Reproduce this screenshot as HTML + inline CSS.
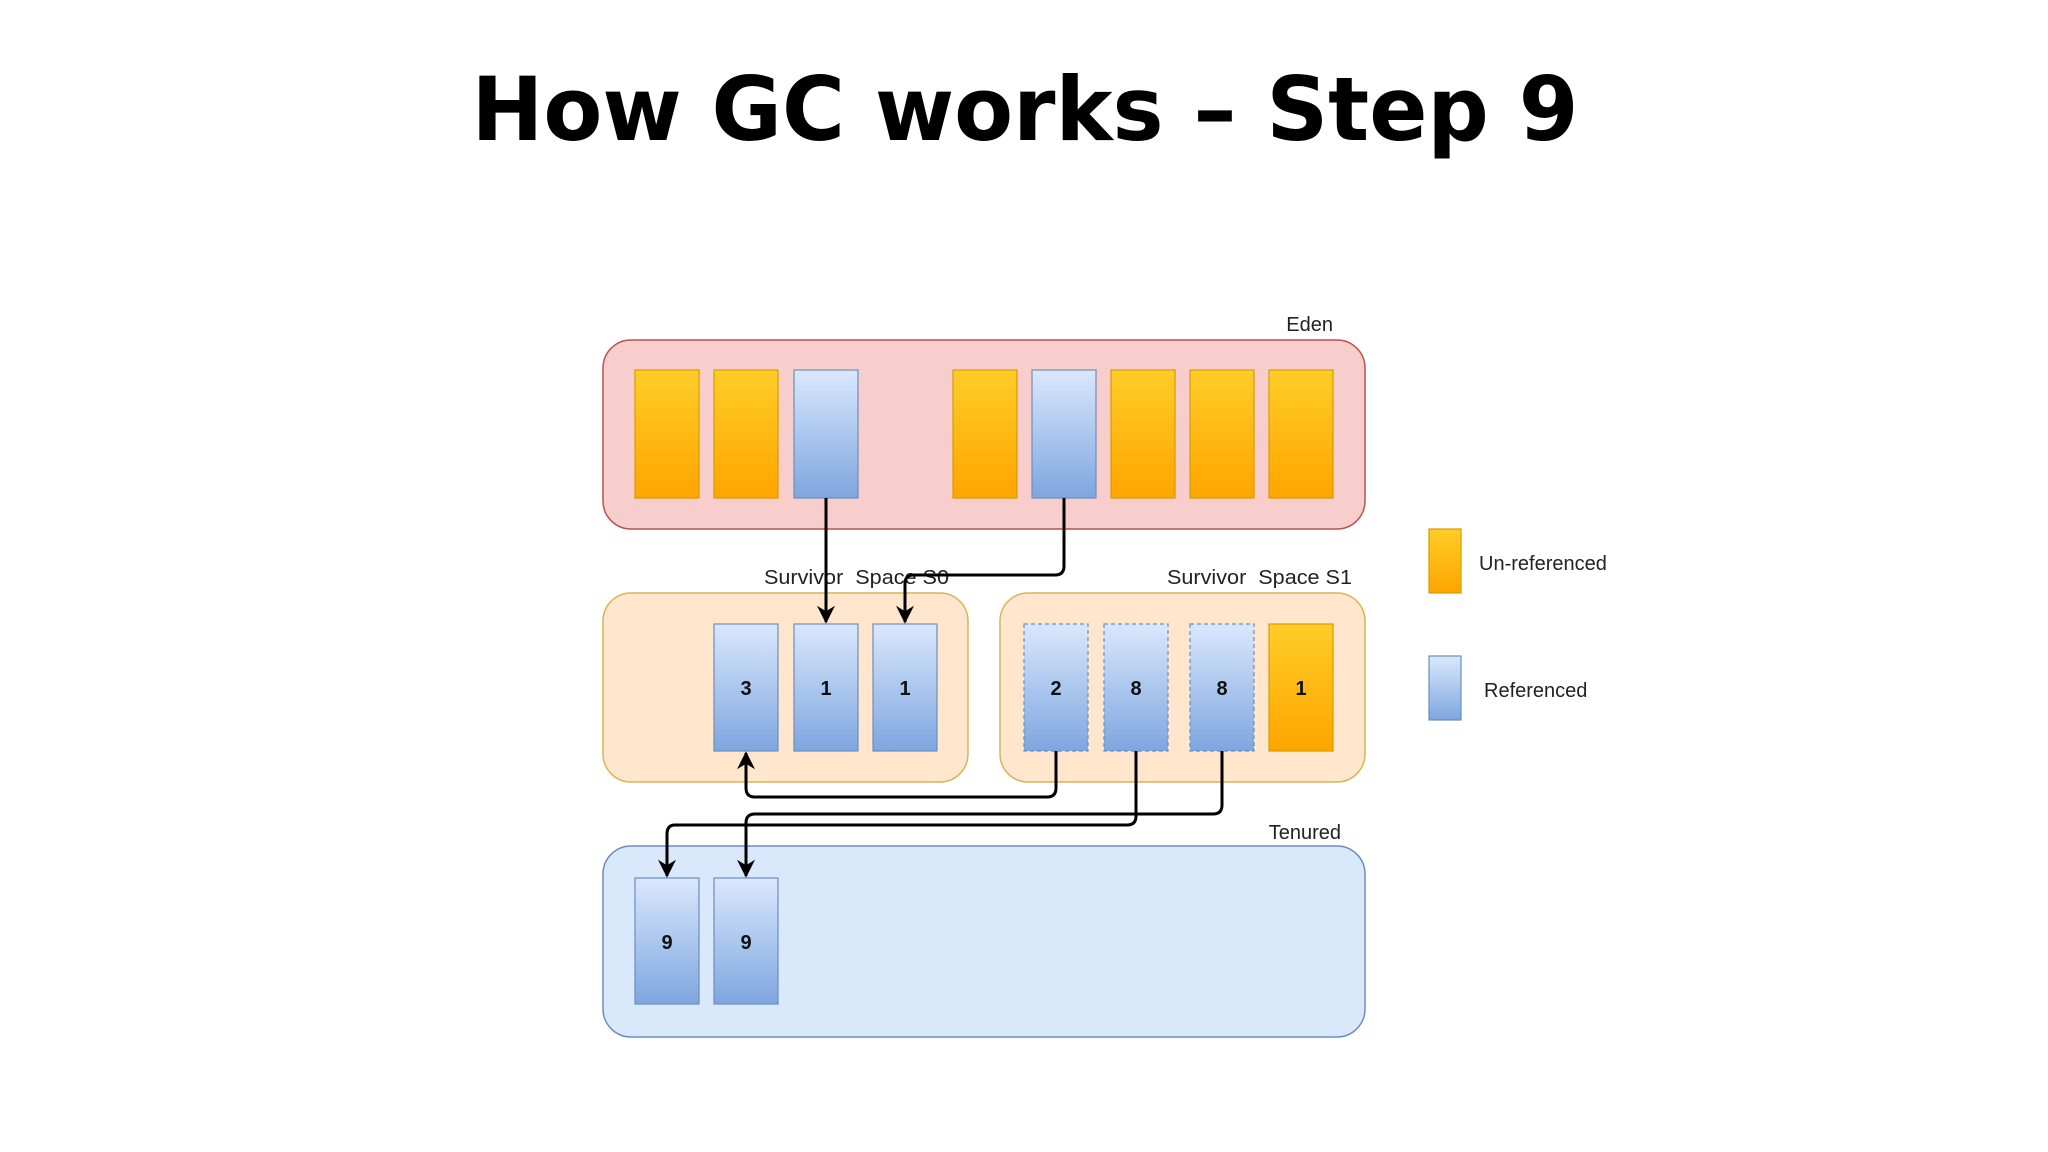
<!DOCTYPE html>
<html><head><meta charset="utf-8"><style>
html,body{margin:0;padding:0;background:#fff;}
svg{display:block;}
</style></head><body>
<svg width="2048" height="1152" viewBox="0 0 2048 1152" xmlns="http://www.w3.org/2000/svg">
<defs>
<linearGradient id="og" x1="0" y1="0" x2="0" y2="1"><stop offset="0" stop-color="#ffcd28"/><stop offset="1" stop-color="#ffa500"/></linearGradient>
<linearGradient id="bg" x1="0" y1="0" x2="0" y2="1"><stop offset="0" stop-color="#dae8fc"/><stop offset="1" stop-color="#7ea6e0"/></linearGradient>
<marker id="ar" viewBox="0 0 10 10" refX="9" refY="5" markerWidth="20" markerHeight="18" orient="auto" markerUnits="userSpaceOnUse"><path d="M0,0 L10,5 L0,10 L3,5 z" fill="#000"/></marker>
</defs>
<text x="1025" y="140" text-anchor="middle" font-family="DejaVu Sans, sans-serif" font-weight="bold" font-size="88" textLength="1107" lengthAdjust="spacingAndGlyphs">How GC works – Step 9</text>

<g font-family="Liberation Sans, sans-serif" font-size="20" fill="#222">
<text x="1333" y="331" text-anchor="end">Eden</text>
<text x="949" y="584" text-anchor="end" textLength="185" lengthAdjust="spacingAndGlyphs">Survivor&#160;&#160;Space S0</text>
<text x="1352" y="584" text-anchor="end" textLength="185" lengthAdjust="spacingAndGlyphs">Survivor&#160;&#160;Space S1</text>
<text x="1341" y="839" text-anchor="end">Tenured</text>
<text x="1479" y="570">Un-referenced</text>
<text x="1484" y="697">Referenced</text>
</g>

<rect x="603" y="340" width="762" height="189" rx="28" fill="#f8cecc" stroke="#b85450" stroke-width="1.5"/>
<rect x="603" y="593" width="365" height="189" rx="28" fill="#ffe6cc" stroke="#d6b656" stroke-width="1.5"/>
<rect x="1000" y="593" width="365" height="189" rx="28" fill="#ffe6cc" stroke="#d6b656" stroke-width="1.5"/>
<rect x="603" y="846" width="762" height="191" rx="28" fill="#dae8fc" stroke="#6c8ebf" stroke-width="1.5"/>

<g stroke-width="1.2">
<rect x="635" y="370" width="64" height="128" fill="url(#og)" stroke="#d79b00"/>
<rect x="714" y="370" width="64" height="128" fill="url(#og)" stroke="#d79b00"/>
<rect x="794" y="370" width="64" height="128" fill="url(#bg)" stroke="#6c8ebf"/>
<rect x="953" y="370" width="64" height="128" fill="url(#og)" stroke="#d79b00"/>
<rect x="1032" y="370" width="64" height="128" fill="url(#bg)" stroke="#6c8ebf"/>
<rect x="1111" y="370" width="64" height="128" fill="url(#og)" stroke="#d79b00"/>
<rect x="1190" y="370" width="64" height="128" fill="url(#og)" stroke="#d79b00"/>
<rect x="1269" y="370" width="64" height="128" fill="url(#og)" stroke="#d79b00"/>

<rect x="714" y="624" width="64" height="127" fill="url(#bg)" stroke="#6c8ebf"/>
<rect x="794" y="624" width="64" height="127" fill="url(#bg)" stroke="#6c8ebf"/>
<rect x="873" y="624" width="64" height="127" fill="url(#bg)" stroke="#6c8ebf"/>
<rect x="1024" y="624" width="64" height="127" fill="url(#bg)" stroke="#6c8ebf" stroke-dasharray="4,3"/>
<rect x="1104" y="624" width="64" height="127" fill="url(#bg)" stroke="#6c8ebf" stroke-dasharray="4,3"/>
<rect x="1190" y="624" width="64" height="127" fill="url(#bg)" stroke="#6c8ebf" stroke-dasharray="4,3"/>
<rect x="1269" y="624" width="64" height="127" fill="url(#og)" stroke="#d79b00"/>

<rect x="635" y="878" width="64" height="126" fill="url(#bg)" stroke="#6c8ebf"/>
<rect x="714" y="878" width="64" height="126" fill="url(#bg)" stroke="#6c8ebf"/>

<rect x="1429" y="529" width="32" height="64" fill="url(#og)" stroke="#d79b00"/>
<rect x="1429" y="656" width="32" height="64" fill="url(#bg)" stroke="#6c8ebf"/>
</g>

<g font-family="Liberation Sans, sans-serif" font-weight="bold" font-size="20" text-anchor="middle" fill="#111">
<text x="746" y="695">3</text><text x="826" y="695">1</text><text x="905" y="695">1</text>
<text x="1056" y="695">2</text><text x="1136" y="695">8</text><text x="1222" y="695">8</text><text x="1301" y="695">1</text>
<text x="667" y="949">9</text><text x="746" y="949">9</text>
</g>

<g fill="none" stroke="#000" stroke-width="3" marker-end="url(#ar)" stroke-linejoin="round">
<path d="M826,498 L826,622"/>
<path d="M1064,498 L1064,566 Q1064,575 1055,575 L913,575 Q905,575 905,584 L905,622"/>
<path d="M1056,751 L1056,788 Q1056,797 1047,797 L755,797 Q746,797 746,788 L746,753"/>
<path d="M1136,751 L1136,816 Q1136,825 1127,825 L675,825 Q667,825 667,834 L667,876"/>
<path d="M1222,751 L1222,805 Q1222,814 1213,814 L755,814 Q746,814 746,823 L746,876"/>
</g>
</svg>
</body></html>
